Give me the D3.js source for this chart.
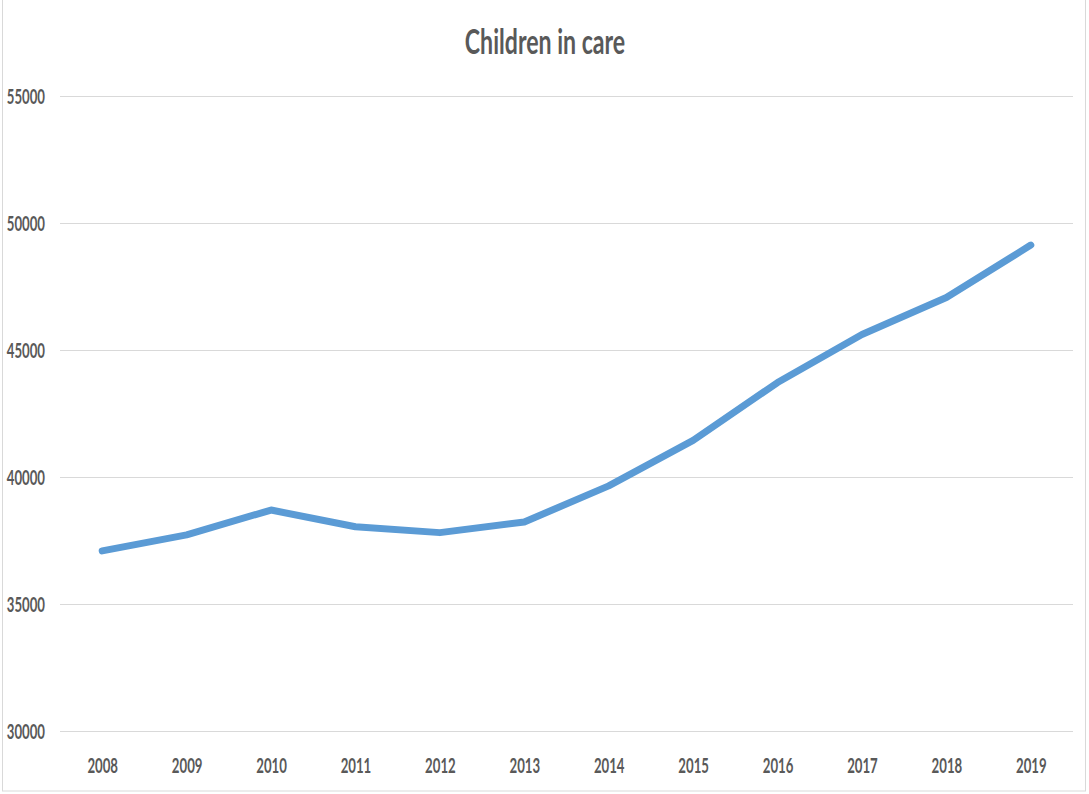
<!DOCTYPE html>
<html>
<head>
<meta charset="utf-8">
<script src="https://cdn.jsdelivr.net/npm/d3@7"></script>
<style>
  html, body { margin: 0; padding: 0; background: #fff; }
  svg { display: block; }
  text { font-family: Lato, "Open Sans", sans-serif; font-weight: 700; fill: #595959; }
</style>
</head>
<body>
<svg id="chart" width="1089" height="794"></svg>
<script>
const years = ["2008","2009","2010","2011","2012","2013","2014","2015","2016","2017","2018","2019"];
const childrenInCare = [37090, 37720, 38700, 38040, 37810, 38230, 39650, 41440, 43720, 45610, 47070, 49130];
const yTicks = [30000, 35000, 40000, 45000, 50000, 55000];
const title = "Children in care";

const W = 1089, H = 794;
const plot = { left: 60, right: 1073, top: 96, bottom: 731 };
const SX = 0.66;

const svg = d3.select("#chart");

// outer chart border
svg.append("rect")
  .attr("x", 2.5).attr("y", -2).attr("width", 1083).attr("height", 793)
  .attr("fill", "none").attr("stroke", "#d9d9d9").attr("stroke-width", 1);

const x = d3.scalePoint().domain(years).range([plot.left, plot.right]).padding(0.5);
const y = d3.scaleLinear().domain([30000, 55000]).range([plot.bottom, plot.top]);

// y axis with gridlines
const yAxis = svg.append("g")
  .attr("transform", `translate(${plot.left},0)`)
  .call(d3.axisLeft(y).tickValues(yTicks).tickFormat(d3.format("d"))
        .tickSize(-(plot.right - plot.left)).tickPadding(15));
yAxis.select(".domain").remove();
yAxis.selectAll(".tick line").attr("stroke", "#d9d9d9").attr("stroke-width", 1.2);
yAxis.selectAll(".tick text")
  .attr("font-size", 20)
  .attr("x", -15 / SX)
  .attr("dy", "0.36em")
  .attr("transform", `scale(${SX},1)`)
  .style("font-family", "Lato, 'Open Sans', sans-serif").style("font-weight", 700).attr("fill", "#595959");

// x axis labels
const xAxis = svg.append("g")
  .attr("transform", `translate(0,${plot.bottom})`)
  .call(d3.axisBottom(x).tickSize(0));
xAxis.select(".domain").remove();
xAxis.selectAll(".tick text")
  .attr("font-size", 20)
  .attr("y", 42)
  .attr("dy", 0)
  .attr("transform", `scale(${SX},1)`)
  .style("font-family", "Lato, 'Open Sans', sans-serif").style("font-weight", 700).attr("fill", "#595959");

// line
const line = d3.line().x((d, i) => x(years[i])).y(d => y(d));
svg.append("path")
  .datum(childrenInCare)
  .attr("d", line)
  .attr("fill", "none")
  .attr("stroke", "#5b9bd5")
  .attr("stroke-width", 7)
  .attr("stroke-linejoin", "round")
  .attr("stroke-linecap", "round");

// title
svg.append("text")
  .attr("transform", `translate(545,54) scale(0.68,1)`)
  .attr("text-anchor", "middle")
  .attr("font-size", 34)
  .text(title);
</script>
</body>
</html>
